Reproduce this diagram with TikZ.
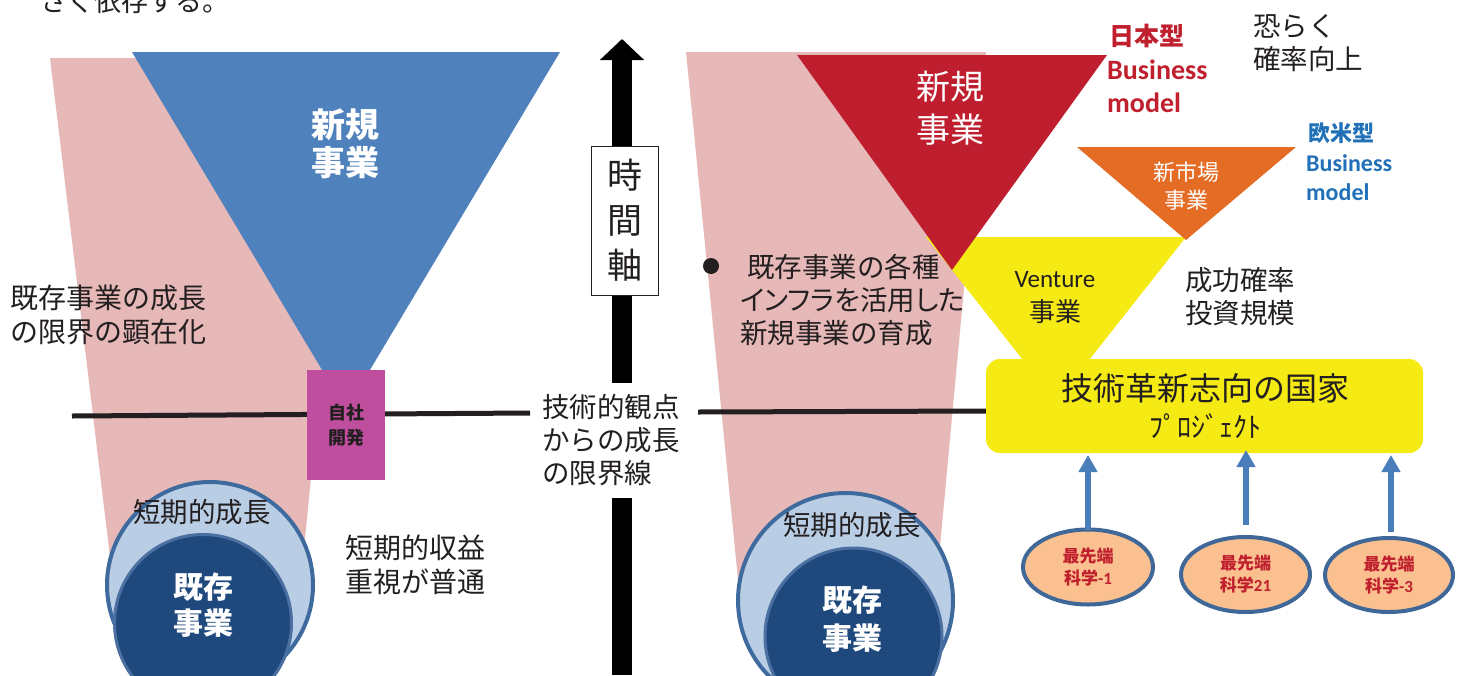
\documentclass[tikz,border=0pt]{standalone}
\usepackage{fontspec}
\setmainfont{Noto Sans CJK JP}
\newfontfamily\lat{Carlito}
\usetikzlibrary{arrows.meta,shapes.geometric}
\definecolor{ink}{HTML}{231F20}
\definecolor{pinkbg}{HTML}{E6B8B7}
\definecolor{bluetri}{HTML}{4F81BD}
\definecolor{magbox}{HTML}{BF4E9E}
\definecolor{lightcirc}{HTML}{B9CDE5}
\definecolor{circrim}{HTML}{3E6A9E}
\definecolor{darkcirc}{HTML}{1F497D}
\definecolor{darkrim}{HTML}{4A6FA0}
\definecolor{redtri}{HTML}{BE1E2D}
\definecolor{redtxt}{HTML}{C0202E}
\definecolor{bluetxt}{HTML}{2271B8}
\definecolor{orangetri}{HTML}{E46C24}
\definecolor{yel}{HTML}{F5EA14}
\definecolor{arrblue}{HTML}{4A7EBB}
\definecolor{ellfill}{HTML}{FAC090}
\definecolor{ellrim}{HTML}{3F6899}
\begin{document}
\begin{tikzpicture}[x=1pt,y=-1pt,
  txt/.style={text=ink, inner sep=0pt, align=left},
  ctxt/.style={text=ink, inner sep=0pt, align=center},
  wtxt/.style={text=white, inner sep=0pt, align=center},
  outercirc/.style={circle, fill=lightcirc, draw=circrim, line width=4pt, inner sep=0pt},
  innercirc/.style={circle, fill=darkcirc, draw=darkrim, line width=3pt, inner sep=0pt},
  sciell/.style={ellipse, fill=ellfill, draw=ellrim, line width=4pt, inner sep=0pt,
     text=redtxt, align=center, font=\fontsize{17}{22}\selectfont\bfseries},
  uparrow/.style={draw=arrblue, line width=6pt, -{Triangle[width=18pt,length=17pt]}},
  limline/.style={draw=ink, line width=5pt}
]
\useasboundingbox (0,0) rectangle (1461,675);
\clip (0,0) rectangle (1461,675);

% clipped text at the top (cut off by the edge, as in the source)
\node[txt, anchor=base west, font=\fontsize{27}{33}\selectfont] (toptext) at (40,11) {さく依存する。};

% ---------- left part ----------
\fill[pinkbg] (50,58) -- (352,58) -- (300,590) -- (114,590) -- cycle;
\fill[bluetri] (132,52) -- (560,52) -- (346,410) -- cycle;
\node[wtxt, font=\fontsize{34}{38}\selectfont\bfseries] (newbizL) at (345,144) {新規\\事業};

\node[txt, anchor=west, font=\fontsize{28}{34}\selectfont] (limitL) at (10,315) {既存事業の成長\\の限界の顕在化};

% limit line
\coordinate (L1) at (72,416);
\coordinate (L2) at (530,413);
\coordinate (R1) at (698,412);
\coordinate (R2) at (988,411);
\draw[limline] (L1) -- (L2);

\node[fill=magbox, minimum width=78pt, minimum height=110pt, inner sep=0pt,
  text=ink, align=center, font=\fontsize{18}{25}\selectfont\bfseries] (jisha) at (346,425) {自社\\開発};

\node[outercirc, minimum size=206pt] (outerL) at (210,585) {};
\node[innercirc, minimum size=177pt] (innerL) at (203,623) {};
\node[wtxt, font=\fontsize{30}{36}\selectfont\bfseries] (kizonL) at (203,605) {既存\\事業};
\node[ctxt, font=\fontsize{27.5}{33}\selectfont] (shortL) at (202,512) {短期的成長};

\node[txt, anchor=west, font=\fontsize{28}{34}\selectfont] (profit) at (345,565) {短期的収益\\重視が普通};

% ---------- time axis ----------
\coordinate (axbot) at (622,675);
\coordinate (axtop) at (622,39);
\draw[draw=black, line width=20pt, -{Triangle[width=43pt,length=21pt]}] (axbot) -- (axtop);
\node[draw=ink, line width=1pt, fill=white, minimum width=67pt, minimum height=149pt,
  inner sep=0pt, text=ink, align=center, font=\fontsize{35}{45}\selectfont] (timebox) at (624.5,220.5) {時\\間\\軸};
\node[fill=white, minimum height=115pt, inner xsep=6pt, inner ysep=0pt, text=ink, align=left,
  font=\fontsize{27.5}{33}\selectfont] (limittxt) at (611,440) {技術的観点\\からの成長\\の限界線};

% ---------- right part ----------
\fill[pinkbg] (686,52) -- (986,52) -- (935,600) -- (740,600) -- cycle;
\draw[limline] (R1) -- (R2);
\fill[yel] (926,237) -- (1186,237) -- (1056,402) -- cycle;
\fill[redtri] (797,55) -- (1107,55) -- (952,270) -- cycle;
\node[wtxt, font=\fontsize{34}{43}\selectfont] (newbizR) at (950,108) {新規\\事業};
\fill[orangetri] (1077,147) -- (1296,147) -- (1186,240) -- cycle;
\node[wtxt, font=\fontsize{22}{28}\selectfont] (newmkt) at (1186,186) {新市場\\事業};

\node[ctxt, font=\lat\fontsize{25}{30}\selectfont] (venture) at (1055,280) {Venture};
\node[ctxt, font=\fontsize{26}{30}\selectfont] (ventbiz) at (1055,312) {事業};

\node[circle, fill=ink, minimum size=16pt, inner sep=0pt] (bullet) at (711,266) {};
\node[txt, anchor=west, font=\fontsize{27.5}{33}\selectfont] (infra) at (740,300) {\hspace{7pt}既存事業の各種\\{\addfontfeature{RawFeature=+palt}インフラを活用した}\\新規事業の育成};

% labels top right
\node[anchor=west, inner sep=0pt, text=redtxt, font=\fontsize{25}{30}\selectfont\bfseries] (jpType) at (1109,36) {日本型};
\node[anchor=west, inner sep=0pt, text=redtxt, font=\lat\fontsize{28}{30}\selectfont\bfseries] (jpBiz) at (1107,70) {Business};
\node[anchor=west, inner sep=0pt, text=redtxt, font=\lat\fontsize{28}{30}\selectfont\bfseries] (jpModel) at (1107,103) {model};

\node[txt, anchor=west, font=\fontsize{27.5}{33}\selectfont] (probably) at (1253,43) {恐らく\\確率向上};

\node[anchor=west, inner sep=0pt, text=bluetxt, font=\fontsize{22}{26}\selectfont\bfseries] (euType) at (1308,133) {欧米型};
\node[anchor=west, inner sep=0pt, text=bluetxt, font=\lat\fontsize{24}{26}\selectfont\bfseries] (euBiz) at (1306,163) {Business};
\node[anchor=west, inner sep=0pt, text=bluetxt, font=\lat\fontsize{24}{26}\selectfont\bfseries] (euModel) at (1306,192) {model};

\node[txt, anchor=west, font=\fontsize{27.5}{33}\selectfont] (success) at (1185,297) {成功確率\\投資規模};

% national project box
\node[fill=yel, rounded corners=14pt, minimum width=437pt, minimum height=94pt, inner sep=0pt] (natproj) at (1204.5,406) {};
\node[ctxt, font=\fontsize{32}{36}\selectfont] (natproj1) at (1205,388) {技術革新志向の国家};
\node[ctxt, font=\fontsize{28}{30}\selectfont] (natproj2) at (1205,426) {ﾌﾟﾛｼﾞｪｸﾄ};

% right circles
\node[outercirc, minimum size=215pt] (outerR) at (845.5,600.5) {};
\node[innercirc, minimum size=177pt] (innerR) at (853.5,636.5) {};
\node[wtxt, font=\fontsize{30}{38}\selectfont\bfseries] (kizonR) at (852,619) {既存\\事業};
\node[ctxt, font=\fontsize{27.5}{33}\selectfont] (shortR) at (852,525) {短期的成長};

% science ellipses
\node[sciell, minimum width=130pt, minimum height=75pt] (sci1) at (1088,567) {最先端\\科学{\lat -1}};
\node[sciell, minimum width=129pt, minimum height=75pt] (sci2) at (1245.5,574.5) {最先端\\科学{\lat 21}};
\node[sciell, minimum width=128pt, minimum height=74pt] (sci3) at (1389,575) {最先端\\科学{\lat -3}};

\coordinate (a1s) at (1088,530);
\coordinate (a1e) at (1088,455);
\coordinate (a2s) at (1246,525);
\coordinate (a2e) at (1246,450);
\coordinate (a3s) at (1391,532);
\coordinate (a3e) at (1391,455);
\draw[uparrow] (a1s) -- (a1e);
\draw[uparrow] (a2s) -- (a2e);
\draw[uparrow] (a3s) -- (a3e);
\end{tikzpicture}
\end{document}
